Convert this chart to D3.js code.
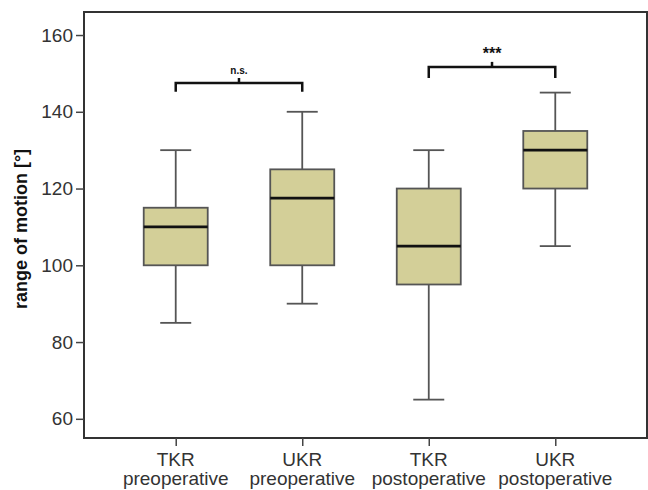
<!DOCTYPE html>
<html>
<head>
<meta charset="utf-8">
<script src="https://cdn.jsdelivr.net/npm/d3@7"></script>
<style>
  body { margin: 0; background: #fff; }
  text { font-family: "Liberation Sans", Arial, sans-serif; }
</style>
</head>
<body>
<div id="chart"></div>
<script>
// data
const groups = ["TKR preoperative", "UKR preoperative", "TKR postoperative", "UKR postoperative"];
const whiskerLow = [85, 90, 65, 105];
const q1 = [100, 100, 95, 120];
const medians = [110, 117.5, 105, 130];
const q3 = [115, 125, 120, 135];
const whiskerHigh = [130, 140, 130, 145];
const yTicks = [60, 80, 100, 120, 140, 160];
// significance brackets: [from group, to group, level, label]
const brackets = [
  {a: 0, b: 1, level: 147.5, drop: 2.3, label: "n.s."},
  {a: 2, b: 3, level: 151.7, drop: 2.9, label: "***"}
];

const width = 648, height = 490;
const margin = {top: 12, right: 1, bottom: 52, left: 84};

const svg = d3.select("#chart").append("svg")
    .attr("width", width)
    .attr("height", height);

const data = groups.map((g, i) => ({
  name: g, lo: whiskerLow[i], q1: q1[i], med: medians[i], q3: q3[i], hi: whiskerHigh[i]
}));

const x = d3.scalePoint()
    .domain(groups)
    .range([margin.left, width - margin.right])
    .padding(0.725);

const y = d3.scaleLinear()
    .domain([55, 166])
    .range([height - margin.bottom, margin.top]);

const boxW = 64, capW = 31;

// frame
svg.append("rect")
    .attr("x", margin.left)
    .attr("y", margin.top)
    .attr("width", width - margin.right - margin.left)
    .attr("height", height - margin.bottom - margin.top)
    .attr("fill", "none")
    .attr("stroke", "#333")
    .attr("stroke-width", 2);

// y axis
const yAxis = g => g
    .attr("transform", `translate(${margin.left},0)`)
    .call(d3.axisLeft(y).tickValues(yTicks).tickSize(8).tickPadding(3))
    .call(g => g.select(".domain").remove())
    .call(g => g.selectAll("line").attr("stroke", "#444").attr("stroke-width", 1.5))
    .call(g => g.selectAll("text").attr("fill", "#333").style("font-size", "19px")
        .style("font-family", "'Liberation Sans', Arial, sans-serif"));
svg.append("g").call(yAxis);

// x axis
const xAxis = g => g
    .attr("transform", `translate(0,${height - margin.bottom})`)
    .call(d3.axisBottom(x).tickSize(8).tickFormat(""))
    .call(g => g.select(".domain").remove())
    .call(g => g.selectAll("line").attr("stroke", "#444").attr("stroke-width", 1.5));
svg.append("g").call(xAxis);

// two-line category labels, one text per line
const labelRows = svg.append("g")
  .selectAll("g")
  .data(groups)
  .join("g")
    .attr("transform", d => `translate(${x(d)},${height - margin.bottom + 28})`);

labelRows.selectAll("text")
  .data(d => d.split(" "))
  .join("text")
    .attr("y", (d, i) => i * 19)
    .attr("text-anchor", "middle")
    .attr("fill", "#333")
    .style("font-size", "19px")
    .text(d => d);

// y label
svg.append("text")
    .attr("transform", `translate(27,229) rotate(-90)`)
    .attr("text-anchor", "middle")
    .attr("fill", "#111")
    .style("font-size", "18px")
    .style("font-weight", "bold")
    .text("range of motion [°]");

// boxes
const box = svg.append("g")
  .selectAll("g")
  .data(data)
  .join("g")
    .attr("transform", d => `translate(${x(d.name)},0)`);

box.append("line")
    .attr("y1", d => y(d.hi)).attr("y2", d => y(d.q3))
    .attr("stroke", "#555").attr("stroke-width", 1.8);
box.append("line")
    .attr("y1", d => y(d.lo)).attr("y2", d => y(d.q1))
    .attr("stroke", "#555").attr("stroke-width", 1.8);
box.append("line")
    .attr("x1", -capW / 2).attr("x2", capW / 2)
    .attr("y1", d => y(d.hi)).attr("y2", d => y(d.hi))
    .attr("stroke", "#555").attr("stroke-width", 1.8);
box.append("line")
    .attr("x1", -capW / 2).attr("x2", capW / 2)
    .attr("y1", d => y(d.lo)).attr("y2", d => y(d.lo))
    .attr("stroke", "#555").attr("stroke-width", 1.8);
box.append("rect")
    .attr("x", -boxW / 2)
    .attr("width", boxW)
    .attr("y", d => y(d.q3))
    .attr("height", d => y(d.q1) - y(d.q3))
    .attr("fill", "#d3cf98")
    .attr("stroke", "#555")
    .attr("stroke-width", 1.8);
box.append("line")
    .attr("x1", -boxW / 2).attr("x2", boxW / 2)
    .attr("y1", d => y(d.med)).attr("y2", d => y(d.med))
    .attr("stroke", "#111").attr("stroke-width", 2.6);

// significance brackets
const br = svg.append("g")
  .selectAll("g")
  .data(brackets)
  .join("g");

br.append("path")
    .attr("d", d => {
      const xa = x(groups[d.a]), xb = x(groups[d.b]);
      const yl = y(d.level), ye = y(d.level - d.drop);
      return `M${xa},${ye}V${yl}H${xb}V${ye}`;
    })
    .attr("fill", "none")
    .attr("stroke", "#111")
    .attr("stroke-width", 2.5);
br.append("line")
    .attr("x1", d => (x(groups[d.a]) + x(groups[d.b])) / 2)
    .attr("x2", d => (x(groups[d.a]) + x(groups[d.b])) / 2)
    .attr("y1", d => y(d.level))
    .attr("y2", d => y(d.level) - 5)
    .attr("stroke", "#111")
    .attr("stroke-width", 2.5);
br.append("text")
    .attr("x", d => (x(groups[d.a]) + x(groups[d.b])) / 2)
    .attr("y", d => y(d.level) - (d.label === "***" ? 8 : 9))
    .attr("text-anchor", "middle")
    .attr("fill", "#111")
    .style("font-size", d => d.label === "***" ? "16px" : "10px")
    .style("font-weight", "bold")
    .text(d => d.label);
</script>
</body>
</html>
